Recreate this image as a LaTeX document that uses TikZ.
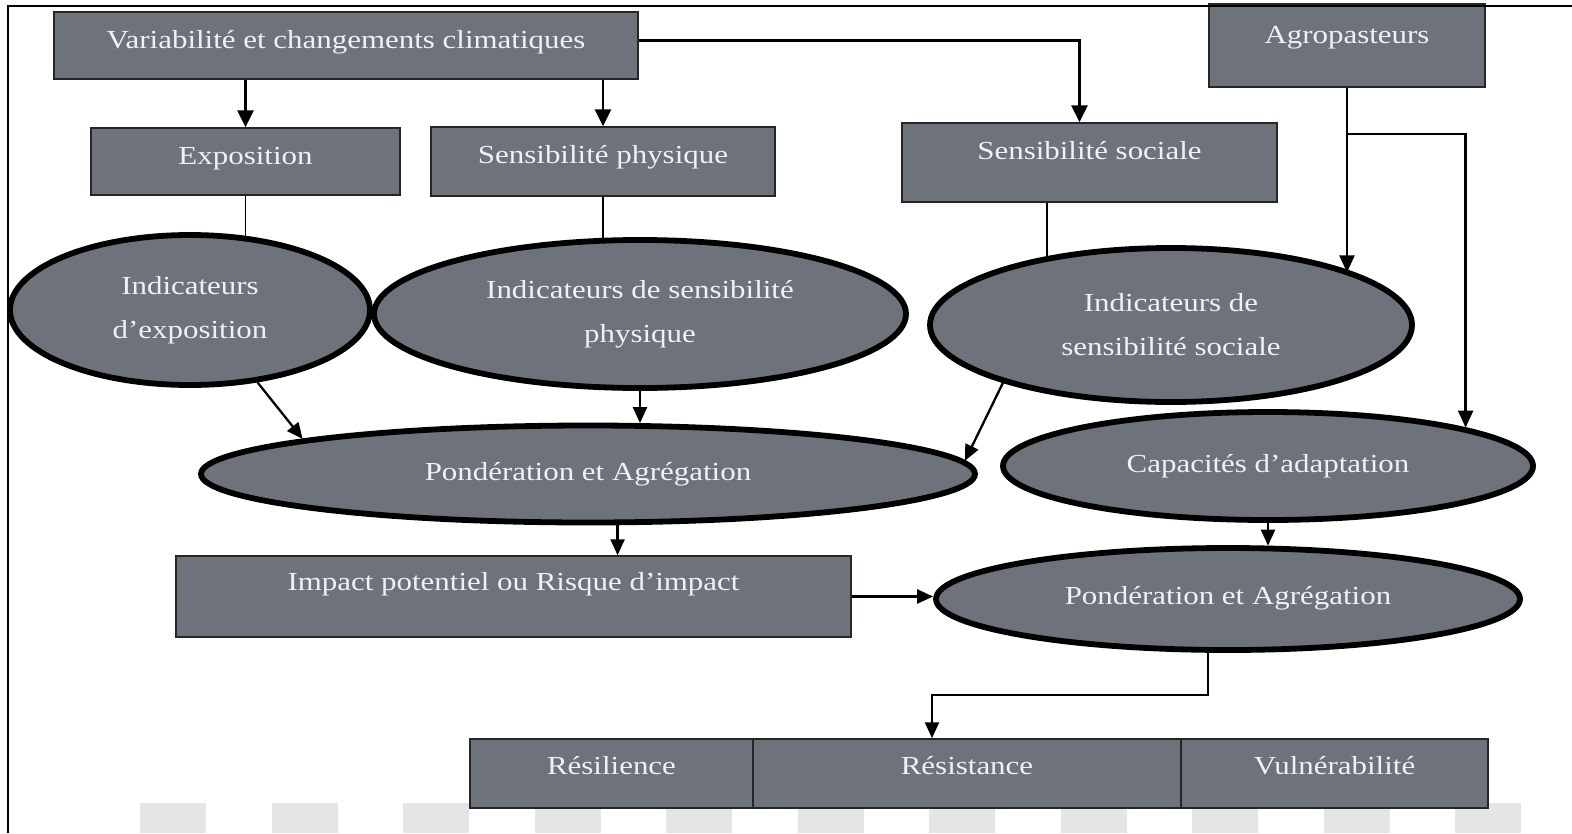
\documentclass[tikz,border=0pt]{standalone}
\usepackage{fontspec}
\setmainfont{Liberation Serif}[FakeStretch=1.19]
\usetikzlibrary{shapes.geometric,arrows.meta,calc}
\definecolor{boxgray}{HTML}{6E727A}
\definecolor{txt}{HTML}{EEF1F7}
\definecolor{sqgray}{HTML}{E4E6E5}
\newcommand{\fs}{\fontsize{26}{44}\selectfont}
\tikzset{
  box/.style={draw=black!85, line width=1.5pt, fill=boxgray, text=txt, inner sep=0pt, anchor=base, font=\fs},
  ell/.style={ellipse, draw=black, line width=5.8pt, fill=boxgray, text=txt, inner sep=0pt, align=center, font=\fs},
  arr/.style={line width=2.8pt, -{Triangle[width=16pt,length=17pt]}},
  marr/.style={line width=2.4pt, -{Triangle[width=15pt,length=17pt]}},
  sarr/.style={line width=2.3pt, -{Triangle[width=14pt,length=16pt]}},
  plain/.style={line width=1.5pt},
  sq/.style={fill=sqgray},
  frame/.style={line width=2.5pt}
}
\begin{document}
\begin{tikzpicture}[x=1pt,y=-1pt]
\useasboundingbox (0,0) rectangle (1572,833);
% background squares
\foreach \k in {0,...,10} \fill[sq] (140+131.5*\k,803) rectangle ++(66,30);
% boxes
\node[box, minimum width=584pt, text height=36pt, text depth=31pt] (box1) at (346,48) {Variabilité et changements climatiques};
\node[box, minimum width=276pt, text height=39pt, text depth=44pt] (agro) at (1347,43) {Agropasteurs};
\node[box, minimum width=309pt, text height=36pt, text depth=31pt] (expo) at (245.5,164) {Exposition};
\node[box, minimum width=344pt, text height=36pt, text depth=33pt] (sphys) at (603,163) {Sensibilité physique};
\node[box, minimum width=375pt, text height=36pt, text depth=43pt] (ssoc) at (1089.5,159) {Sensibilité sociale};
\node[box, minimum width=675pt, text height=34pt, text depth=47pt] (impact) at (513.5,590) {Impact potentiel ou Risque d’impact};
\node[box, minimum width=283pt, text height=35pt, text depth=34pt] (resil) at (611.5,774) {Résilience};
\node[box, minimum width=428pt, text height=35pt, text depth=34pt] (resist) at (967,774) {Résistance};
\node[box, minimum width=307pt, text height=35pt, text depth=34pt] (vuln) at (1334.5,774) {Vulnérabilité};
% ellipses
\node[ell, minimum width=360pt, minimum height=150pt] (eexpo) at (190,310) {Indicateurs\\d’exposition};
\node[ell, minimum width=532pt, minimum height=148pt] (ephys) at (640,314) {Indicateurs de sensibilité\\physique};
\node[ell, minimum width=482pt, minimum height=154pt] (esoc) at (1171,325) {Indicateurs de\\sensibilité sociale};
\node[ell, minimum width=774pt, minimum height=97pt] (p1) at (588,474) {\raisebox{6pt}{Pondération et Agrégation}};
\node[ell, minimum width=530pt, minimum height=108pt] (cap) at (1268,466) {\raisebox{6pt}{Capacités d’adaptation}};
\node[ell, minimum width=584pt, minimum height=102pt] (p2) at (1228,599) {\raisebox{8pt}{Pondération et Agrégation}};
% connectors
\coordinate (br) at (1347,134);
\draw[arr] (expo.north |- box1.south) -- (expo.north);
\draw[arr] (sphys.north |- box1.south) -- (sphys.north);
\draw[arr] ([yshift=5pt]box1.east) -| ([xshift=-10pt]ssoc.north);
\draw[marr] (agro.south) -- (agro.south |- esoc.16.6);
\draw[marr] (br) -| (cap.11.7);
\draw[plain] (expo.south) -- (expo.south |- eexpo.52);
\draw[plain] (sphys.south) -- (sphys.south |- ephys.116.8);
\draw[plain] ([xshift=-42.5pt]ssoc.south) -- ([xshift=-42.5pt]ssoc.south |- esoc.152);
\draw[sarr] (eexpo.-47.6) -- (p1.173);
\draw[sarr] (ephys.south) -- (ephys.south |- p1.42.75);
\draw[sarr] (esoc.-161.4) -- (p1.2);
\draw[sarr] (cap.south) -- (cap.south |- p2.51.6);
\draw[sarr] (p1.-60) -- (p1.-60 |- impact.north);
\draw[sarr] (impact.east) -- (impact.east -| p2.west);
\draw[sarr] ([xshift=-20pt]p2.south) -- ++(0,42) -| ([xshift=-35pt]resist.north);
% frame
\draw[frame] (8,833) -- (8,6) -- (1572,6);
\end{tikzpicture}
\end{document}
